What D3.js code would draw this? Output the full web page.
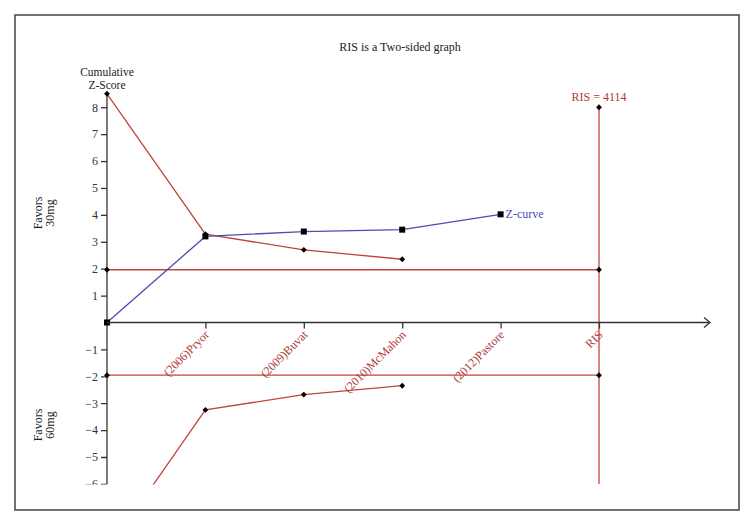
<!DOCTYPE html>
<html>
<head>
  <meta charset='utf-8'>
  <style>
  body { margin: 0; background: #fff; }
  text { font-family: 'Liberation Serif', 'DejaVu Serif', serif; }
  .axis path, .axis line { stroke: #333; stroke-width: 1.3px; }
  .axis text { fill: #333; font-size: 12px; }
  .axis--x text { fill: #b03a36; }
  .red { fill: none; stroke: #c0443e; stroke-width: 1.3px; }
  .blue { fill: none; stroke: #4c4cb4; stroke-width: 1.3px; }
  </style>
</head>
<body>
<script src='https://d3js.org/d3.v7.min.js'></script>
<script>

var categories = ['', '(2006)Pryor', '(2009)Buvat', '(2010)McMahon', '(2012)Pastore', 'RIS'];
var zCurve = [0, 3.2, 3.38, 3.45, 4.02];
var upperBound = [8.5, 3.28, 2.7, 2.35];
var lowerBound = [-8.5, -3.25, -2.68, -2.35];
var significance = 1.96;
var risValue = 8;
var yTicks = [-6, -5, -4, -3, -2, -1, 1, 2, 3, 4, 5, 6, 7, 8];

var W = 754, H = 526;

var svg = d3.select('body').append('svg')
    .attr('width', W)
    .attr('height', H);

svg.append('rect')
    .attr('x', 15).attr('y', 15)
    .attr('width', 724).attr('height', 495)
    .attr('fill', 'none')
    .attr('stroke', '#444')
    .attr('stroke-width', 1.5);

var x = d3.scalePoint()
    .domain(categories)
    .range([107, 599]);

var y = d3.scaleLinear()
    .domain([-6, 8.5])
    .range([483.9, 93.8]);

svg.append('defs').append('clipPath')
    .attr('id', 'plot')
  .append('rect')
    .attr('x', 0).attr('y', 0)
    .attr('width', W).attr('height', y(-6) + 0.5);

var plot = svg.append('g').attr('clip-path', 'url(#plot)');

// y axis
var yAxis = plot.append('g')
    .attr('class', 'axis axis--y')
    .attr('transform', 'translate(' + x('') + ',0)')
    .call(d3.axisLeft(y).tickValues(yTicks).tickSize(6).tickSizeOuter(0));
yAxis.select('.domain').attr('d', 'M0,' + y(8.5) + 'V' + y(-6));

// x axis
var xAxis = svg.append('g')
    .attr('class', 'axis axis--x')
    .attr('transform', 'translate(0,' + y(0) + ')')
    .call(d3.axisBottom(x).tickValues(categories.slice(1)).tickSize(6).tickSizeOuter(0));
xAxis.select('.domain').attr('d', 'M' + x('') + ',0H710');
xAxis.append('path')
    .attr('d', 'M704,-5L710,0L704,5')
    .attr('fill', 'none')
    .attr('stroke', '#333')
    .attr('stroke-width', 1.3);
xAxis.selectAll('.tick text')
    .attr('text-anchor', 'end')
    .attr('transform', 'translate(1,10) rotate(-45)')
    .attr('dx', 0)
    .attr('dy', '0.35em')
    .attr('y', 0)
    .attr('x', 0);

var idx = function(i) { return x(categories[i]); };

var line = d3.line()
    .x(function(d, i) { return idx(i); })
    .y(function(d) { return y(d); });

// significance boundaries
[significance, -significance].forEach(function(v) {
  plot.append('line')
      .attr('class', 'red')
      .attr('x1', x('')).attr('x2', x('RIS'))
      .attr('y1', y(v)).attr('y2', y(v));
});

// RIS vertical line
plot.append('line')
    .attr('class', 'red')
    .attr('x1', x('RIS')).attr('x2', x('RIS'))
    .attr('y1', y(risValue)).attr('y2', y(-6));

plot.append('path').datum(upperBound).attr('class', 'red').attr('d', line);
plot.append('path').datum(lowerBound).attr('class', 'red').attr('d', line);
plot.append('path').datum(zCurve).attr('class', 'blue').attr('d', line);

// diamond markers
var diamonds = [];
upperBound.forEach(function(v, i) { diamonds.push([idx(i), y(v)]); });
lowerBound.forEach(function(v, i) { diamonds.push([idx(i), y(v)]); });
[significance, -significance].forEach(function(v) {
  diamonds.push([x(''), y(v)]);
  diamonds.push([x('RIS'), y(v)]);
});
diamonds.push([x('RIS'), y(risValue)]);

plot.selectAll('.diamond')
    .data(diamonds)
  .enter().append('path')
    .attr('class', 'diamond')
    .attr('d', d3.symbol().type(d3.symbolDiamond2).size(22))
    .attr('transform', function(d) { return 'translate(' + d[0] + ',' + d[1] + ')'; })
    .attr('fill', '#000');

plot.selectAll('.square')
    .data(zCurve)
  .enter().append('rect')
    .attr('class', 'square')
    .attr('x', function(d, i) { return idx(i) - 3; })
    .attr('y', function(d) { return y(d) - 3; })
    .attr('width', 6).attr('height', 6)
    .attr('fill', '#000');

// labels
svg.append('text')
    .attr('x', 400).attr('y', 51)
    .attr('text-anchor', 'middle')
    .attr('font-size', 12)
    .attr('fill', '#222')
    .text('RIS is a Two-sided graph');

var cz = svg.append('text')
    .attr('text-anchor', 'middle')
    .attr('font-size', 11.5)
    .attr('fill', '#222');
cz.append('tspan').attr('x', 107).attr('y', 76).text('Cumulative');
cz.append('tspan').attr('x', 107).attr('y', 89).text('Z-Score');

svg.append('text')
    .attr('x', x('RIS')).attr('y', y(risValue) - 6)
    .attr('text-anchor', 'middle')
    .attr('font-size', 12)
    .attr('fill', '#b03a36')
    .text('RIS = 4114');

svg.append('text')
    .attr('x', idx(4) + 5).attr('y', y(zCurve[4]) + 4)
    .attr('font-size', 12)
    .attr('fill', '#4c4cb4')
    .text('Z-curve');

function sideLabel(cy, lines) {
  var t = svg.append('text')
      .attr('transform', 'translate(44,' + cy + ') rotate(-90)')
      .attr('text-anchor', 'middle')
      .attr('font-size', 12)
      .attr('fill', '#222');
  t.append('tspan').attr('x', 0).attr('y', -2).text(lines[0]);
  t.append('tspan').attr('x', 0).attr('y', 10).text(lines[1]);
}
sideLabel(213, ['Favors', '30mg']);
sideLabel(425, ['Favors', '60mg']);

</script>
</body>
</html>
